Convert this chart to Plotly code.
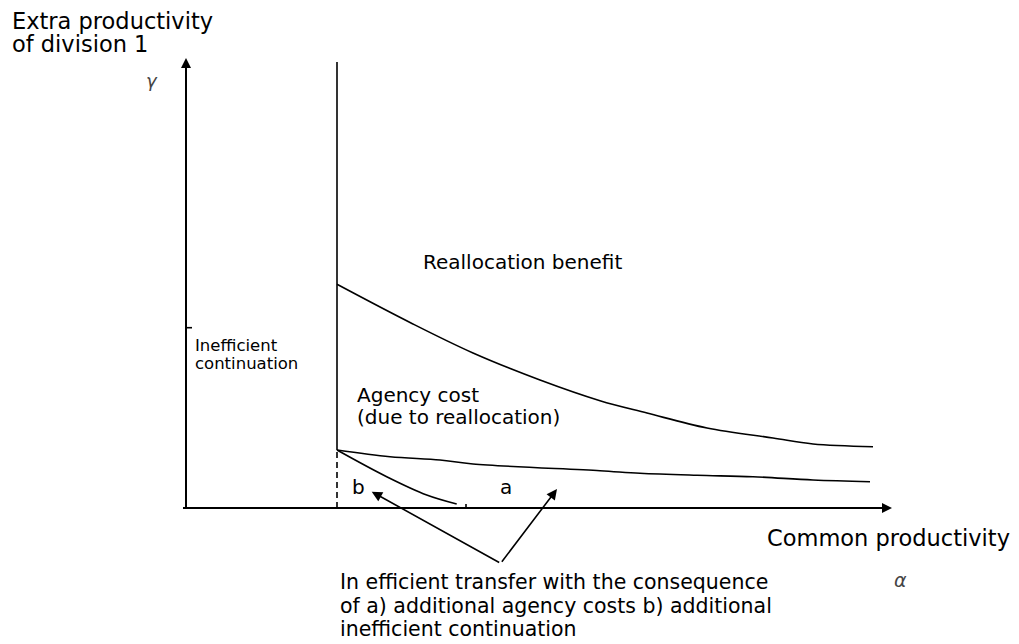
import plotly.graph_objects as go

# Schematic coordinates: origin where the two axes cross (units ~ pixels)
benefit_x = [151, 225, 287, 354, 414, 461, 521, 587, 627, 687]
benefit_y = [223.7, 185, 155, 128, 107.3, 95, 80, 70, 64, 61.3]

agency_x = [151, 204, 254, 287, 414, 454, 511, 567, 627, 684]
agency_y = [58, 51.3, 48, 44, 37.3, 34.7, 32.7, 31.3, 28, 26.3]

cont_x = [151, 200.7, 240.7, 270.7]
cont_y = [58, 31.3, 13, 4]

threshold_x = 151
threshold_top = 446
threshold_kink = 58

x_axis_start = -3
x_axis_end = 706
y_axis_end = 450
alpha_tick = 280
gamma_tick = 180.3

arrow_apex = (314.7, -55.3)
arrow_tips = [(185.7, 16.3), (371, 19)]

FONT = "DejaVu Sans"
LINE = dict(color="black", width=1.6)

fig = go.Figure()

# axes
fig.add_trace(go.Scatter(x=[x_axis_start, x_axis_end - 6], y=[0, 0], mode="lines",
                         line=dict(color="black", width=2)))
fig.add_trace(go.Scatter(x=[0, 0], y=[0, y_axis_end - 6], mode="lines",
                         line=dict(color="black", width=2)))
# ticks
fig.add_trace(go.Scatter(x=[0, 6], y=[gamma_tick, gamma_tick], mode="lines", line=LINE))
fig.add_trace(go.Scatter(x=[alpha_tick, alpha_tick], y=[0, 4], mode="lines", line=LINE))

# threshold line (solid above, dashed below)
fig.add_trace(go.Scatter(x=[threshold_x, threshold_x], y=[threshold_kink, threshold_top],
                         mode="lines", line=LINE))
fig.add_trace(go.Scatter(x=[threshold_x, threshold_x], y=[0, threshold_kink], mode="lines",
                         line=dict(color="black", width=1.6, dash="6px,4px")))

# curves
for xs, ys in [(benefit_x, benefit_y), (agency_x, agency_y), (cont_x, cont_y)]:
    fig.add_trace(go.Scatter(x=xs, y=ys, mode="lines",
                             line=dict(color="black", width=1.6, shape="spline")))

anns = []
# axis arrowheads
anns.append(dict(x=x_axis_end, y=0, ax=x_axis_end - 12, ay=0, axref="x", ayref="y",
                 xref="x", yref="y", showarrow=True, arrowhead=2, arrowsize=1,
                 arrowwidth=2, arrowcolor="black", text=""))
anns.append(dict(x=0, y=y_axis_end, ax=0, ay=y_axis_end - 12, axref="x", ayref="y",
                 xref="x", yref="y", showarrow=True, arrowhead=2, arrowsize=1,
                 arrowwidth=2, arrowcolor="black", text=""))
# pointer arrows
for tx, ty in arrow_tips:
    anns.append(dict(x=tx, y=ty, ax=arrow_apex[0], ay=arrow_apex[1], axref="x", ayref="y",
                     xref="x", yref="y", showarrow=True, arrowhead=2, arrowsize=1.3,
                     arrowwidth=1.6, arrowcolor="black", text=""))


def label(txt, x, y, size=20, anchor="left", color="black", style="normal"):
    anns.append(dict(x=x, y=y, xref="x", yref="y", text=txt, showarrow=False,
                     xanchor=anchor, yanchor="middle",
                     font=dict(family=FONT, size=size, color=color, style=style)))


label("Extra productivity", -176, 487, 22.5)
label("of division 1", -176, 464, 22.5)
label("γ", -34, 428, 18, anchor="center", color="#444444", style="italic")
label("Reallocation benefit", 234.5, 246, 20)
label("Inefficient", 7, 162.5, 16.5)
label("continuation", 7, 145, 16.5)
label("Agency cost", 169, 113, 20)
label("(due to reallocation)", 169, 91, 20)
label("b", 172, 21, 20, anchor="center")
label("a", 320, 21, 20, anchor="center")
label("Common productivity", 579, -30, 22.5)
label("α", 714, -72, 19, anchor="center", color="#444444", style="italic")
label("In efficient transfer with the consequence", 152, -74, 20.5)
label("of a) additional agency costs b) additional", 152, -98, 20.5)
label("inefficient continuation", 152, -121, 20.5)

# the page adds an 8 px body margin, so the figure is 1011 x 636
fig.update_layout(
    width=1011, height=636, autosize=False,
    margin=dict(l=0, r=0, t=0, b=0),
    paper_bgcolor="white", plot_bgcolor="white",
    showlegend=False,
    xaxis=dict(range=[-178, 833], visible=False, fixedrange=True),
    yaxis=dict(range=[-136, 500], visible=False, fixedrange=True),
    annotations=anns,
)

fig.write_html("out.html")
